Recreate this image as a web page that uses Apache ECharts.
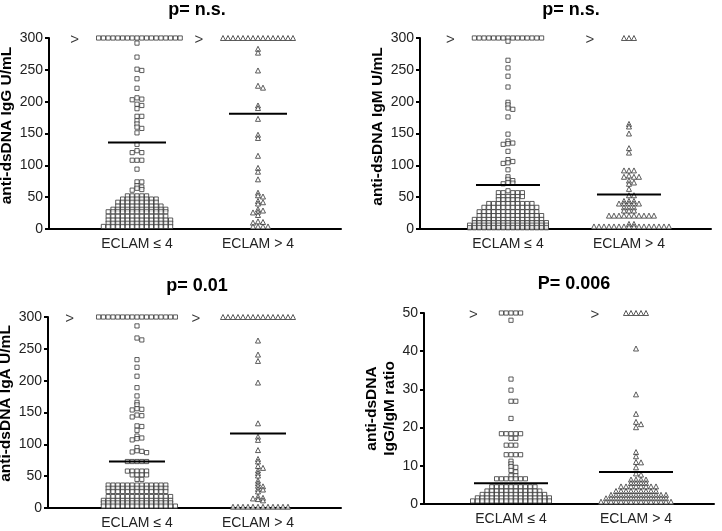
<!DOCTYPE html>
<html><head><meta charset="utf-8">
<script src="https://cdn.jsdelivr.net/npm/echarts@6/dist/echarts.min.js"></script>
<style>html,body{margin:0;padding:0;background:#fff}#c{width:722px;height:531px}</style>
</head><body><div id="c"></div>
<script>
// ---------------- data ----------------
const categories = ['ECLAM ≤ 4', 'ECLAM > 4'];
const panelTitles = ['p= n.s.', 'p= n.s.', 'p= 0.01', 'P= 0.006'];
const yAxisNames = ['anti-dsDNA IgG U/mL', 'anti-dsDNA IgM U/mL', 'anti-dsDNA IgA U/mL', 'anti-dsDNA\nIgG/IgM ratio'];
const yMaxes = [300, 300, 300, 50];
const yIntervals = [50, 50, 50, 10];

const igG_low = [300,300,300,300,300,300,300,300,300,300,300,300,300,300,300,300,300,300,
  292,270,251,249,236,221,206,204,203,196,194,189,177,177,170,165,160,158,151,133,123,120,120,108,108,108,94,74,74,68,66,64,62,61,
  52,52,52,52,52, 47,47,47,47,47,47,47,47, 42,42,42,42,42,42,42,42,42,
  36,36,36,36,36,36,36,36,36,36, 31,31,31,31,31,31,31,31,31,31,31,31,
  27,27,27,27,27,27,27,27,27,27,27,27,27, 20,20,20,20,20,20,20,20,20,20,20,20,20,
  14,14,14,14,14,14,14,14,14,14,14,14,14,14, 9,9,9,9,9,9,9,9,9,9,9,9,9,9,
  4,4,4,4,4,4,4,4,4,4,4,4,4,4,4];
const igG_high = [300,300,300,300,300,300,300,300,300,300,300,300,300,300,300,
  283,277,249,225,222,194,190,173,148,143,115,96,90,78,57,53,51,44,42,40,31,29,27,26,22,12,11,10,4,4,4,4];

const igM_low = [300,300,300,300,300,300,300,300,300,300,300,300,300,300,300,
  295,265,253,240,223,199,195,190,188,176,149,138,135,134,133,122,109,106,104,103,93,82,78,76,73,72,71,60,
  57,57,57,57,57, 51,51,51,51,51,51, 46,46,46,46,46, 40,40,40,40,40,40,40,40,40,40,
  34,34,34,34,34,34,34,34,34,34,34,34, 27,27,27,27,27,27,27,27,27,27,27,27,27,
  21,21,21,21,21,21,21,21,21,21,21,21,21,21, 15,15,15,15,15,15,15,15,15,15,15,15,15,15,15,
  10,10,10,10,10,10,10,10,10,10,10,10,10,10,10,10, 6,6,6,6,6,6,6,6,6,6,6,6,6,6,6,6,6,
  2,2,2,2,2,2,2,2,2,2,2,2,2,2,2,2,2];
const igM_high = [300,300,300,165,161,150,127,120,92,92,92,84,82,82,82,76,73,71,63,53,53,44,44,44,
  40,40,40,40,40,34,34,34,29,29,29,21,21,21,21,21,21,21,21,21,21,8,8,
  4,4,4,4,4,4,4,4,4,4,4,4,4,4,4,4];

const igA_low = [300,300,300,300,300,300,300,300,300,300,300,300,300,300,300,300,300,
  286,267,264,233,221,207,189,176,166,162,156,155,154,146,145,143,129,128,122,113,110,109,107,95,90,89,88,87,
  73,73,73,73,73, 58,58,58,58,58, 52,52,52,52, 45,45,
  36,36,36,36,36,36,36,36,36,36,36,36,36, 31,31,31,31,31,31,31,31,31,31,31,31,31,
  26,26,26,26,26,26,26,26,26,26,26,26,26, 18,18,18,18,18,18,18,18,18,18,18,18,18,18,
  12,12,12,12,12,12,12,12,12,12,12,12,12,12,12, 8,8,8,8,8,8,8,8,8,8,8,8,8,8,8,
  3,3,3,3,3,3,3,3,3,3,3,3,3,3,3,3];
const igA_high = [300,300,300,300,300,300,300,300,300,300,300,300,300,300,300,
  263,241,231,197,133,112,107,91,77,73,66,63,59,55,51,43,39,35,34,30,29,26,18,16,15,14,12,
  2,2,2,2,2,2,2,2,2,2,2,2];

const ratio_low = [50,50,50,50,50,48.1,32.7,29.8,26.9,26.9,22.4,18.4,18.4,18.4,18.4,18.4,17.2,17.2,
  15.4,15.4,15.4,12.9,12.9,12.9,12.9,11.2,10.5,9.8,9.6,8.8,8.4,7.4,7.4,
  6.6,6.6,6.6,6.6,6.6,6.6,6.6, 4.5,4.5,4.5,4.5,4.5,4.5,4.5,4.5,4.5,4.5,
  3.4,3.4,3.4,3.4,3.4,3.4,3.4,3.4,3.4,3.4,3.4,3.4, 2.5,2.5,2.5,2.5,2.5,2.5,2.5,2.5,2.5,2.5,2.5,2.5,2.5,2.5,
  1.6,1.6,1.6,1.6,1.6,1.6,1.6,1.6,1.6,1.6,1.6,1.6,1.6,1.6,1.6,1.6,
  0.8,0.8,0.8,0.8,0.8,0.8,0.8,0.8,0.8,0.8,0.8,0.8,0.8,0.8,0.8,0.8,0.8];
const ratio_high = [50,50,50,50,50,40.7,28.7,23.6,21.5,20.9,20.1,13.6,12.5,11.0,10.9,9.6,8.0,7.7,
  6.4,6.4,6.4,6.4, 5.5,5.5,5.5,5.5, 4.6,4.6,4.6,4.6,4.6,4.6,4.6,4.6, 3.4,3.4,3.4,3.4,3.4,3.4,3.4,3.4,3.4,
  2.4,2.4,2.4,2.4,2.4,2.4,2.4,2.4,2.4,2.4,2.4,2.4, 1.5,1.5,1.5,1.5,1.5,1.5,1.5,1.5,1.5,1.5,1.5,1.5,1.5,
  0.6,0.6,0.6,0.6,0.6,0.6,0.6,0.6,0.6,0.6,0.6,0.6,0.6,0.6,0.6];

const meanIgG = [136, 181];
const meanIgM = [69, 54];
const meanIgA = [73, 117];
const meanRatio = [5.4, 8.4];

// ---------------- layout / style ----------------
const FONT = '"Liberation Sans", Arial, Helvetica, sans-serif';
const panels = [
  { low: igG_low, high: igG_high, means: meanIgG },
  { low: igM_low, high: igM_high, means: meanIgM },
  { low: igA_low, high: igA_high, means: meanIgA },
  { low: ratio_low, high: ratio_high, means: meanRatio }
];
const layouts = [
  { grid: { left: 49, top: 38, width: 292, height: 191 }, xMin: 0.2727, xMax: 2.686, tx: 197, ty: 1, nameGap: 31, namePad: 16, meanHalf: 29, gtGap: [24, 24] },
  { grid: { left: 420, top: 38, width: 291, height: 191 }, xMin: 0.2727, xMax: 2.678, tx: 571, ty: 1, nameGap: 33, namePad: 14, meanHalf: 32, gtGap: [24, 34] },
  { grid: { left: 48, top: 317, width: 293, height: 191 }, xMin: 0.2645, xMax: 2.686, tx: 197, ty: 277, nameGap: 27, namePad: 18, meanHalf: 28, gtGap: [29, 27] },
  { grid: { left: 424, top: 313, width: 290, height: 191 }, xMin: 0.304, xMax: 2.624, tx: 574, ty: 275, nameGap: 22, namePad: 0, meanHalf: 37, gtGap: [28, 31] }
];

// beeswarm layout: spread points that collide (in pixels) horizontally, centred on the category
function swarmOffsets(values, unitPx, d, h) {
  const order = values.map((v, i) => i).sort((a, b) => values[b] - values[a] || a - b);
  const placed = [];
  const off = new Array(values.length).fill(0);
  order.forEach(i => {
    const y = values[i] * unitPx;
    for (let s = 0; s < 400; s++) {
      const x = s === 0 ? 0 : (s % 2 === 1 ? 1 : -1) * Math.ceil(s / 2) * d;
      if (!placed.some(p => Math.abs(p.x - x) < d - 0.01 && Math.abs(p.y - y) < h)) {
        placed.push({ x, y }); off[i] = x; break;
      }
    }
  });
  return off;
}

const grids = [], xAxes = [], yAxes = [], titles = [], series = [];
panels.forEach((p, i) => {
  const L = layouts[i];
  const yMax = yMaxes[i];
  const unitPx = L.grid.height / yMax;
  const pxu = L.grid.width / (L.xMax - L.xMin);
  grids.push(Object.assign({ outerBoundsMode: 'none', containLabel: false }, L.grid));
  titles.push({
    text: panelTitles[i], left: L.tx, top: L.ty, textAlign: 'center', padding: 0,
    textStyle: { fontSize: 18, fontWeight: 'bold', color: '#000', fontFamily: FONT }
  });
  xAxes.push({
    gridIndex: i, type: 'value', min: L.xMin, max: L.xMax,
    axisLine: { show: true, onZero: false, lineStyle: { color: '#000', width: 2 } },
    axisTick: { show: false }, splitLine: { show: false },
    axisLabel: {
      customValues: [1, 2], formatter: v => categories[Math.round(v) - 1] || '',
      fontSize: 14, color: '#222', margin: 8, fontFamily: FONT
    }
  });
  yAxes.push({
    gridIndex: i, type: 'value', min: 0, max: yMax, interval: yIntervals[i],
    axisLine: { show: true, lineStyle: { color: '#000', width: 2 } },
    axisTick: { show: true, length: 4, lineStyle: { color: '#000', width: 2 } },
    splitLine: { show: false },
    axisLabel: { fontSize: 14, color: '#222', margin: 6, fontFamily: FONT },
    name: yAxisNames[i], nameLocation: 'middle', nameRotate: 90, nameGap: L.nameGap,
    nameTextStyle: { fontSize: 15.5, fontWeight: 'bold', color: '#000', fontFamily: FONT, lineHeight: 18, padding: [0, 0, 0, L.namePad] }
  });

  const groups = [
    { vals: p.low, symbol: 'rect', size: 4.2, d: 4.8 },
    { vals: p.high, symbol: 'triangle', size: 5, d: 5 }
  ];
  groups.forEach((g, gi) => {
    const cat = gi + 1;
    const offs = swarmOffsets(g.vals, unitPx, g.d, 2.5);
    series.push({
      type: 'scatter', xAxisIndex: i, yAxisIndex: i, clip: false, silent: true,
      symbol: g.symbol, symbolSize: g.size,
      itemStyle: { color: '#fff', borderColor: '#333', borderWidth: 1 },
      data: g.vals.map((v, k) => [cat + offs[k] / pxu, v]), z: 3
    });
    // mean line
    const m = p.means[gi];
    const hw = L.meanHalf / pxu;
    series.push({
      type: 'line', xAxisIndex: i, yAxisIndex: i, silent: true, symbol: 'none', z: 4,
      lineStyle: { color: '#000', width: 2 },
      data: [[cat - hw, m], [cat + hw, m]]
    });
    // ">" marker left of the values above the axis limit
    const topOffs = offs.filter((o, k) => g.vals[k] >= yMax);
    if (topOffs.length) {
      const left = Math.min(...topOffs);
      series.push({
        type: 'scatter', xAxisIndex: i, yAxisIndex: i, clip: false, silent: true,
        symbolSize: 0, z: 5,
        label: { show: true, position: 'inside', formatter: '>', fontSize: 15, color: '#000', fontFamily: FONT, offset: [0, 2] },
        data: [[cat + (left - L.gtGap[gi]) / pxu, yMax]]
      });
    }
  });
});

const chart = echarts.init(document.getElementById('c'), null, { renderer: 'canvas' });
chart.setOption({
  animation: false, backgroundColor: '#fff',
  title: titles, grid: grids, xAxis: xAxes, yAxis: yAxes, series: series
});
</script>
</body></html>
